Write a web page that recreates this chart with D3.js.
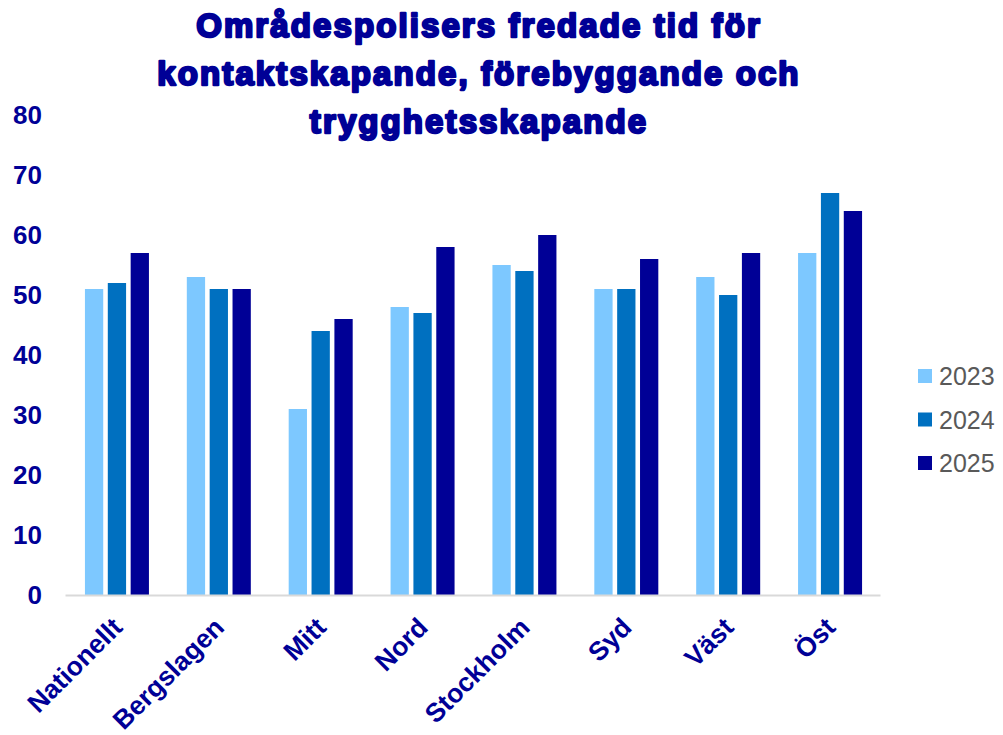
<!DOCTYPE html>
<html>
<head>
<meta charset="utf-8">
<script src="https://cdn.jsdelivr.net/npm/d3@7"></script>
<style>
  body { margin: 0; background: #fff; }
  svg { display: block; font-family: "Liberation Sans", Arial, sans-serif; }
</style>
</head>
<body>
<svg></svg>
<script>
// Chart data
const regions = ["Nationellt", "Bergslagen", "Mitt", "Nord", "Stockholm", "Syd", "Väst", "Öst"];
const years = ["2023", "2024", "2025"];
const values2023 = [51, 53, 31, 48, 55, 51, 53, 57];
const values2024 = [52, 51, 44, 47, 54, 51, 50, 67];
const values2025 = [57, 51, 46, 58, 60, 56, 57, 64];
const yTicks = [0, 10, 20, 30, 40, 50, 60, 70, 80];
const titleLines = ["Områdespolisers fredade tid för", "kontaktskapande, förebyggande och", "trygghetsskapande"];

const seriesValues = [values2023, values2024, values2025];
const colors = ["#7DC8FF", "#0070C0", "#000096"];
const navy = "#000096";

const width = 1003;
const height = 735;
const plotLeft = 66, plotRight = 881, plotTop = 115, plotBottom = 595;

const svg = d3.select("svg")
    .attr("width", width)
    .attr("height", height);

// title
svg.append("g")
    .selectAll("text")
    .data(titleLines)
    .enter()
    .append("text")
    .attr("x", 479)
    .attr("y", (d, i) => 37 + i * 48)
    .attr("text-anchor", "middle")
    .attr("font-size", 33)
    .attr("font-weight", "bold")
    .attr("fill", navy)
    .attr("stroke", navy)
    .attr("stroke-width", 2.4)
    .attr("stroke-linejoin", "round")
    .attr("letter-spacing", 2.1)
    .text(d => d);

// scales
const x0 = d3.scaleBand()
    .domain(regions)
    .range([plotLeft, plotRight]);

const x1 = d3.scaleBand()
    .domain(years)
    .range([0, 64])
    .paddingInner(0.2);

const y = d3.scaleLinear()
    .domain([0, 80])
    .range([plotBottom, plotTop]);

// y axis labels
const yAxis = d3.axisLeft(y).tickValues(yTicks).tickSize(0).tickPadding(0);
const yG = svg.append("g")
    .attr("transform", "translate(42,0)")
    .call(yAxis);
yG.select(".domain").remove();
yG.selectAll("text")
    .attr("font-size", 26)
    .attr("font-weight", "bold")
    .attr("font-family", "Liberation Sans, Arial, sans-serif")
    .attr("fill", navy);

// bars
const groups = svg.append("g")
    .selectAll("g")
    .data(regions)
    .enter()
    .append("g")
    .attr("transform", d => "translate(" + (x0(d) + x0.bandwidth() / 2 - 32) + ",0)");

groups.selectAll("rect")
    .data((d, i) => years.map((yr, k) => ({ year: yr, value: seriesValues[k][i], k: k })))
    .enter()
    .append("rect")
    .attr("x", d => x1(d.year))
    .attr("y", d => y(d.value))
    .attr("width", x1.bandwidth())
    .attr("height", d => y(0) - y(d.value))
    .attr("fill", d => colors[d.k]);

// x axis
const xAxis = d3.axisBottom(x0).tickSize(0).tickPadding(0);
const xG = svg.append("g")
    .attr("transform", "translate(0," + plotBottom + ")")
    .call(xAxis);
xG.select(".domain")
    .attr("stroke", "#d9d9d9")
    .attr("stroke-width", 2)
    .attr("transform", "translate(-1,0)");
xG.selectAll("text")
    .attr("font-size", 26.5)
    .attr("font-weight", "bold")
    .attr("font-family", "Liberation Sans, Arial, sans-serif")
    .attr("fill", navy)
    .attr("text-anchor", "end")
    .attr("dy", "0")
    .attr("y", 0)
    .attr("transform", "translate(7,34) rotate(-45)");

// legend
const legend = svg.append("g")
    .selectAll("g")
    .data(years)
    .enter()
    .append("g")
    .attr("transform", (d, i) => "translate(918," + (376 + i * 43.5) + ")");

legend.append("rect")
    .attr("x", 0)
    .attr("y", -7)
    .attr("width", 14)
    .attr("height", 14)
    .attr("fill", (d, i) => colors[i]);

legend.append("text")
    .attr("x", 21)
    .attr("y", 0)
    .attr("dy", "0.36em")
    .attr("font-size", 25)
    .attr("fill", "#595959")
    .text(d => d);
</script>
</body>
</html>
